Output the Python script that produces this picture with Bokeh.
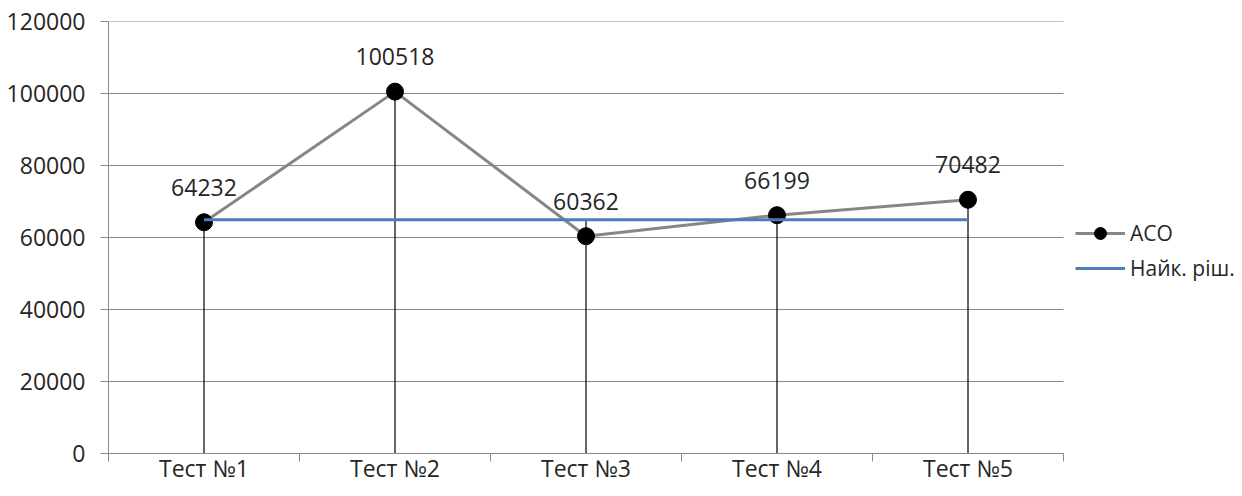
from bokeh.plotting import figure
from bokeh.models import (ColumnDataSource, LabelSet, Legend, LegendItem,
                          FixedTicker, Range1d, NumeralTickFormatter)
from bokeh.core.properties import value
from bokeh.embed import file_html
from bokeh.resources import INLINE
import numpy as np

categories = ["Тест №1", "Тест №2", "Тест №3", "Тест №4", "Тест №5"]
aco = [64232, 100518, 60362, 66199, 70482]
best = [64900, 64900, 64900, 64900, 64900]
y_ticks = [0, 20000, 40000, 60000, 80000, 100000, 120000]

FONT = "Open Sans"
FS = "23px"
TXT = "#262626"
GRID = "#8a8a8a"

n = len(categories)
xs = [i + 0.5 for i in range(n)]
drop_top = list(np.maximum(np.array(aco), np.array(best)))

src = ColumnDataSource(dict(x=xs, aco=aco, best=best, top=drop_top,
                            zero=[0] * n,
                            lbl=[str(v) for v in aco]))
grid_src = ColumnDataSource(dict(y=y_ticks, x0=[0] * len(y_ticks),
                                 x1=[n] * len(y_ticks)))

W, H = 1242, 496
LEFT, RIGHT, TOP, BOTTOM = 108, 0, 21, 43
frame_w = W - LEFT - RIGHT
data_w = 955  # pixel width of the category area
x_end = n * frame_w / data_w

p = figure(width=W, height=H, output_backend="svg", toolbar_location=None,
           x_range=Range1d(0, x_end), y_range=Range1d(0, 120000),
           min_border_left=LEFT, min_border_right=RIGHT, min_border_top=TOP,
           min_border_bottom=BOTTOM)
p.outline_line_color = None
p.background_fill_color = "white"
p.border_fill_color = "white"

# grid (drawn only across the category area)
p.xgrid.grid_line_color = None
p.ygrid.grid_line_color = None
p.segment(x0="x0", y0="y", x1="x1", y1="y", source=grid_src,
          line_color=GRID, line_width=1)

# y axis
p.yaxis.ticker = FixedTicker(ticks=y_ticks)
p.yaxis.formatter = NumeralTickFormatter(format="0")
p.yaxis.axis_line_color = GRID
p.yaxis.major_tick_line_color = GRID
p.yaxis.major_tick_out = 8
p.yaxis.major_tick_in = 0
p.yaxis.minor_tick_line_color = None
p.yaxis.major_label_standoff = 15
p.yaxis.major_label_text_font = FONT
p.yaxis.major_label_text_font_size = FS
p.yaxis.major_label_text_color = TXT

# x axis
p.xaxis.ticker = FixedTicker(ticks=xs, minor_ticks=list(range(n + 1)))
p.xaxis.major_label_overrides = {x: c for x, c in zip(xs, categories)}
p.xaxis.bounds = (0, n)
p.xaxis.axis_line_color = GRID
p.xaxis.major_tick_line_color = None
p.xaxis.major_tick_out = 0
p.xaxis.major_tick_in = 0
p.xaxis.minor_tick_line_color = GRID
p.xaxis.minor_tick_out = 8
p.xaxis.minor_tick_in = 0
p.xaxis.major_label_standoff = -10
p.xaxis.major_label_text_font = FONT
p.xaxis.major_label_text_font_size = FS
p.xaxis.major_label_text_color = TXT

# drop lines
p.segment(x0="x", y0="zero", x1="x", y1="top", source=src,
          line_color="#000000", line_width=1.2)

# ACO line + markers
aco_line = p.line("x", "aco", source=src, line_color="#868686", line_width=3)
aco_pts = p.scatter("x", "aco", source=src, size=17, fill_color="black",
                    line_color="black")
best_line = p.line("x", "best", source=src, line_color="#4a7ebb", line_width=3)

labels = LabelSet(x="x", y="aco", text="lbl", source=src, y_offset=35,
                  text_align="center", text_baseline="middle",
                  text_font=value(FONT), text_font_size=value(FS),
                  text_color=TXT)
p.add_layout(labels)

legend = Legend(items=[LegendItem(label="АСО", renderers=[aco_line, aco_pts]),
                       LegendItem(label="Найк. ріш.", renderers=[best_line])],
                location=(967, 170), padding=0, margin=0, spacing=5,
                glyph_width=50, glyph_height=30, label_height=30,
                label_standoff=5, border_line_color=None,
                background_fill_alpha=0,
                label_text_font=FONT, label_text_font_size="21px",
                label_text_color=TXT)
p.add_layout(legend, "center")

open("out.html", "w").write(file_html(p, INLINE))
